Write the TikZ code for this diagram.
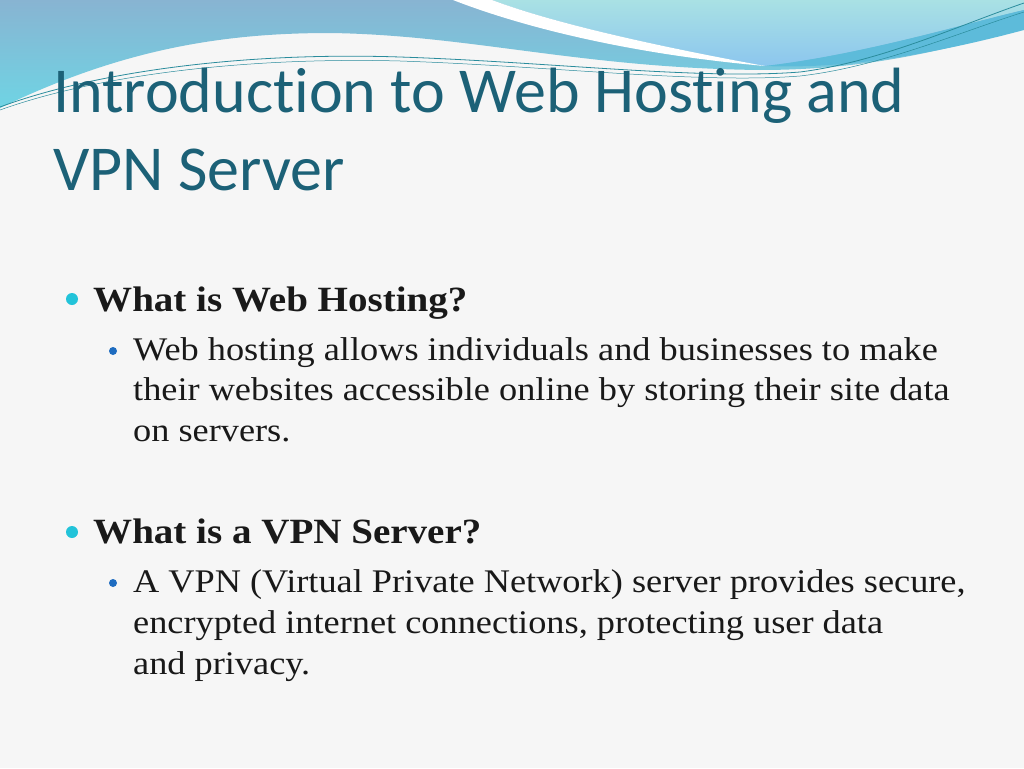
\documentclass[tikz,border=0pt]{standalone}
\usepackage{fontspec}
\setmainfont{Liberation Serif}[FakeStretch=1.1]
\newfontfamily\titlefont{Carlito}[Ligatures=NoCommon]

\definecolor{pagegrey}{HTML}{F6F6F6}
\definecolor{titleblue}{HTML}{1C6177}
\definecolor{wavetop}{HTML}{88B4D2}
\definecolor{wavecyan}{HTML}{6FD4E4}
\definecolor{aquatop}{HTML}{A9E1E4}
\definecolor{aquablue}{HTML}{8CC6EE}
\definecolor{bandblue}{HTML}{5DBBDA}
\definecolor{lineteal}{HTML}{2A8C9C}
\definecolor{dotcyan}{HTML}{22C3D9}
\definecolor{dotblue}{HTML}{1E6CC0}

\tikzset{
  titletext/.style={font=\titlefont\fontsize{64}{75}\selectfont, text=titleblue},
  headtext/.style={font=\fontsize{35.5}{41}\selectfont\bfseries, text=black!90},
  bodytext/.style={font=\fontsize{33}{41}\selectfont, text=black!90},
  dotone/.style={circle, fill=dotcyan, minimum size=12pt, anchor=center},
  dottwo/.style={circle, fill=dotblue, minimum size=8pt, anchor=center},
  thinline/.style={draw=lineteal, line width=0.8pt}
}

\begin{document}
\begin{tikzpicture}[x=1pt, y=-1pt, every node/.style={inner sep=0pt, anchor=base west}]
\useasboundingbox (0,0) rectangle (1024,768);
\fill[pagegrey] (0,0) rectangle (1024,768);

% wave at the top
\shade[top color=wavetop, bottom color=wavecyan] (0,0) -- (0,108) .. controls (120,50) and (220,33) .. (330,33) .. controls (470,35) and (580,68) .. (760,70) .. controls (880,70) and (960,45) .. (1024,28) -- (1024,0) -- cycle;
\shade[top color=aquatop, bottom color=aquablue] (492,0) .. controls (550,22) and (650,45) .. (765,66) .. controls (860,55) and (960,25) .. (1024,10) -- (1024,0) -- cycle;
\fill[bandblue] (765,66) .. controls (860,55) and (960,25) .. (1024,10) -- (1024,30) .. controls (960,47) and (860,70) .. (765,66);
\fill[white] (453,0) .. controls (530,30) and (640,55) .. (765,66) .. controls (650,45) and (550,22) .. (492,0) -- cycle;
\draw[thinline] (0,107) .. controls (100,70) and (250,52) .. (400,57) .. controls (550,62) and (700,80) .. (800,72) .. controls (880,62) and (960,25) .. (1024,3);
\draw[thinline, line width=0.5pt] (0,110) .. controls (100,74) and (250,57) .. (400,61) .. controls (550,66) and (700,84) .. (800,76) .. controls (880,67) and (960,32) .. (1024,12);

\node[titletext] (title1) at (53,112) {Introduction to Web Hosting and};
\node[titletext] (title2) at (53,190) {VPN Server};

\node[dotone] (dot1) at (72,299) {};
\node[headtext] (head1) at (93,311) {What is Web Hosting?};
\node[dottwo] (dot2) at (113,351) {};
\node[bodytext] (web1) at (133,360) {Web hosting allows individuals and businesses to make};
\node[bodytext] (web2) at (133,400) {their websites accessible online by storing their site data};
\node[bodytext] (web3) at (133,441) {on servers.};

\node[dotone] (dot3) at (72,532) {};
\node[headtext] (head2) at (93,543) {What is a VPN Server?};
\node[dottwo] (dot4) at (113,583) {};
\node[bodytext] (vpn1) at (133,592) {A VPN (Virtual Private Network) server provides secure,};
\node[bodytext] (vpn2) at (133,633) {encrypted internet connections, protecting user data};
\node[bodytext] (vpn3) at (133,674) {and privacy.};

\end{tikzpicture}
\end{document}
